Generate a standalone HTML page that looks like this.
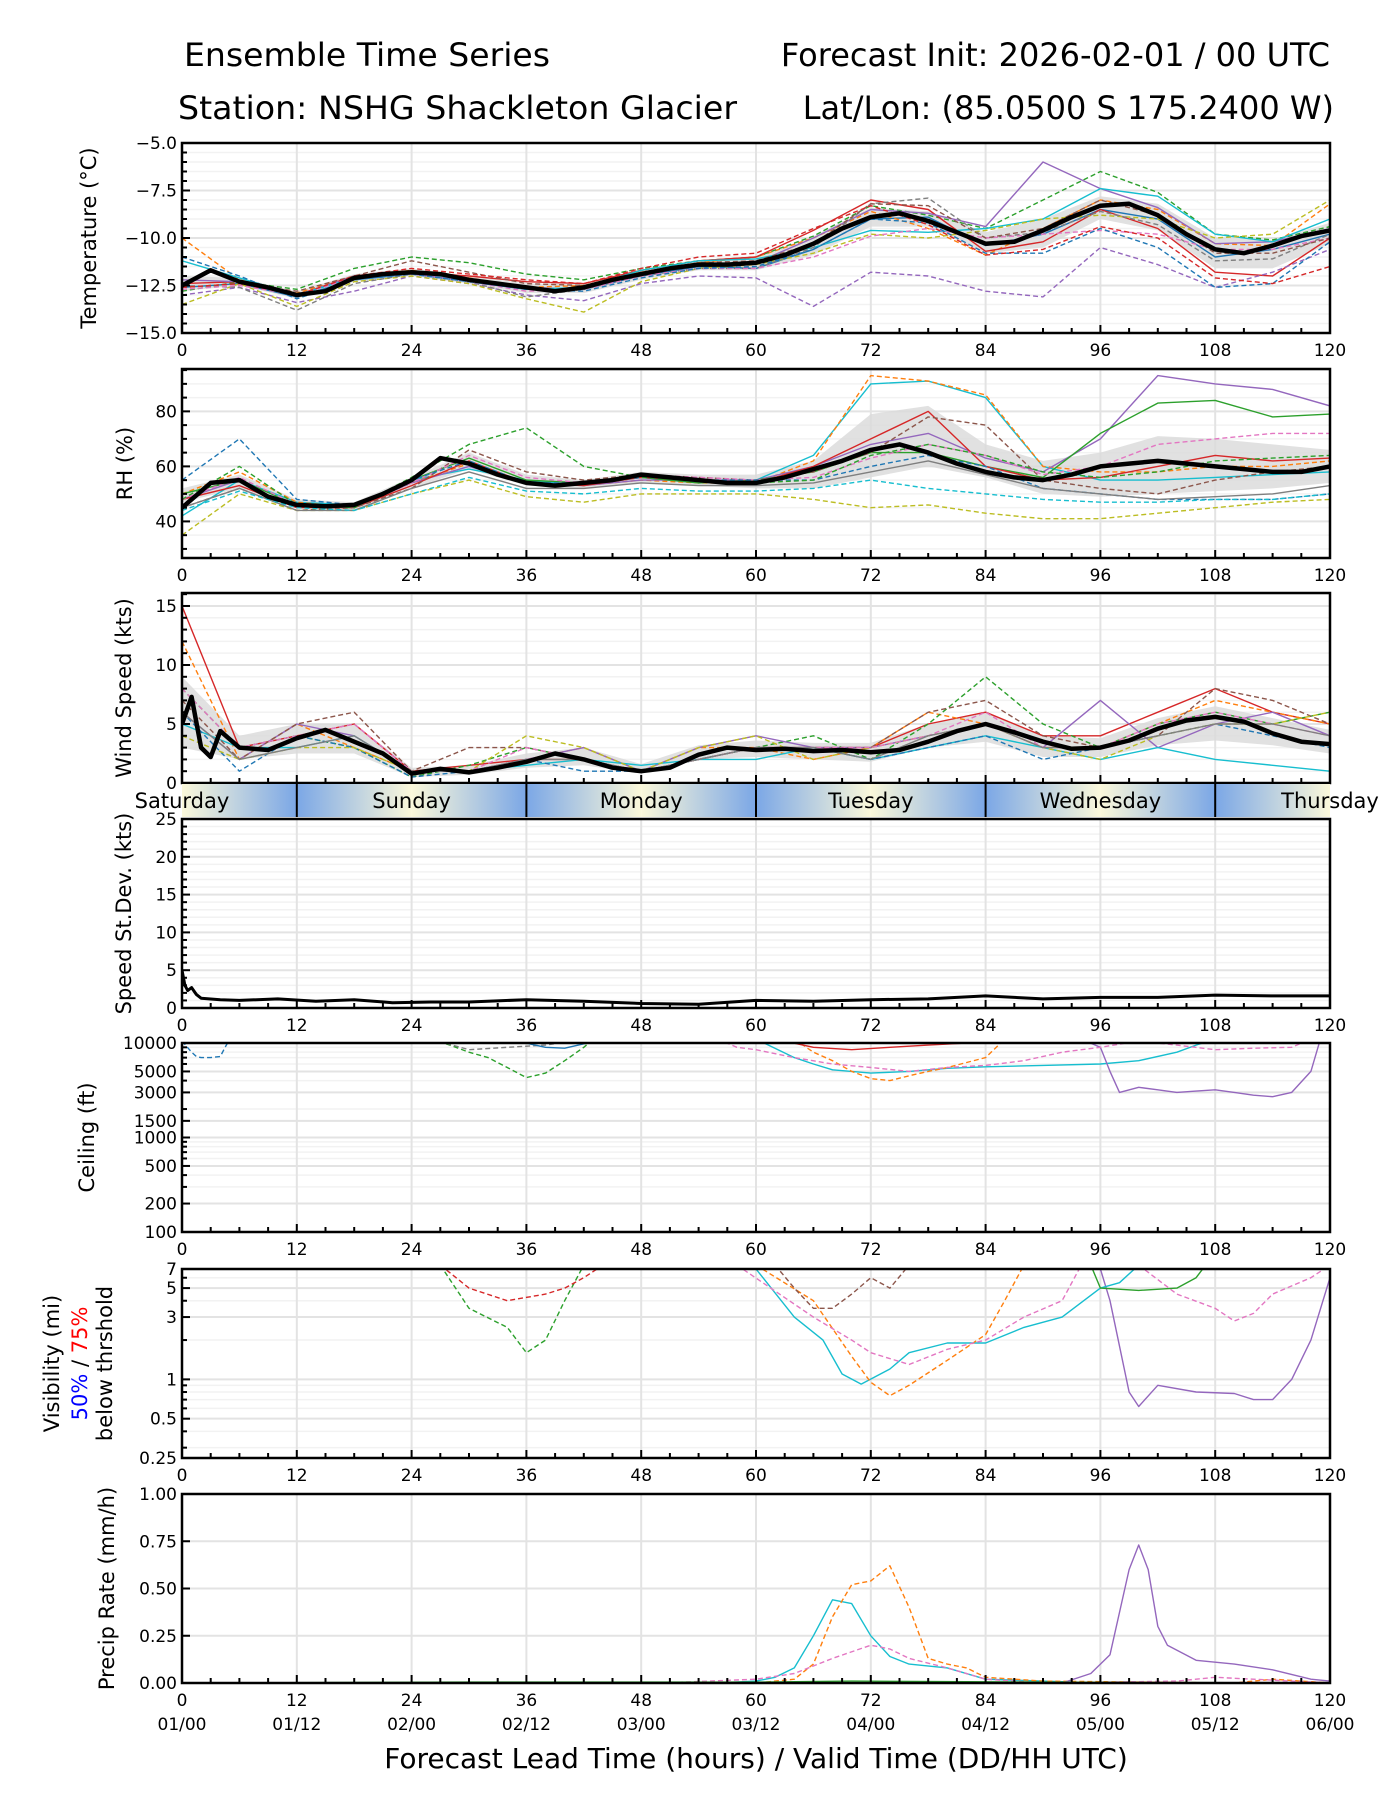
<!DOCTYPE html>
<html><head><meta charset="utf-8"><title>Ensemble Time Series</title>
<style>
html,body{margin:0;padding:0;background:#fff;}
svg text{font-family:"DejaVu Sans","Liberation Sans",sans-serif;fill:#000;}
</style></head>
<body>
<svg id="chart" xmlns="http://www.w3.org/2000/svg" width="1400" height="1800" viewBox="0 0 1400 1800">
<defs>
<linearGradient id="dayGrad" x1="0" x2="1" y1="0" y2="0">
<stop offset="0" stop-color="#fbf8da"/><stop offset="0.5" stop-color="#7ba7e6"/><stop offset="1" stop-color="#fbf8da"/>
</linearGradient>
</defs>
<text x="184" y="66" font-size="32" textLength="366" lengthAdjust="spacingAndGlyphs">Ensemble Time Series</text>
<text x="1330" y="66" font-size="32" text-anchor="end">Forecast Init: 2026-02-01 / 00 UTC</text>
<text x="178" y="119" font-size="32" textLength="559" lengthAdjust="spacingAndGlyphs">Station: NSHG Shackleton Glacier</text>
<text x="1334" y="119" font-size="32" text-anchor="end">Lat/Lon: (85.0500 S 175.2400 W)</text>
<g id="plots"></g>
<text x="756" y="1768" font-size="28" text-anchor="middle">Forecast Lead Time (hours) / Valid Time (DD/HH UTC)</text>
</svg>
<script>
// ---------- data ----------
const H6 = [0,6,12,18,24,30,36,42,48,54,60,66,72,78,84,90,96,102,108,114,120];
const H3 = [0,3,6,9,12,15,18,21,24,27,30,33,36,39,42,45,48,51,54,57,60,63,66,69,72,75,78,81,84,87,90,93,96,99,102,105,108,111,114,117,120];
const xTickLabels = ["0","12","24","36","48","60","72","84","96","108","120"];
const dateLabels = ["01/00","01/12","02/00","02/12","03/00","03/12","04/00","04/12","05/00","05/12","06/00"];
const dayNames = ["Saturday","Sunday","Monday","Tuesday","Wednesday","Thursday"];

const tempMean = [-12.5,-11.7,-12.3,-12.6,-13.0,-12.8,-12.1,-11.9,-11.8,-11.9,-12.2,-12.4,-12.6,-12.8,-12.6,-12.2,-11.9,-11.6,-11.4,-11.4,-11.3,-10.9,-10.3,-9.5,-8.9,-8.7,-9.1,-9.7,-10.3,-10.2,-9.6,-8.9,-8.3,-8.2,-8.8,-9.8,-10.6,-10.8,-10.4,-9.9,-9.6];
const tempLow = [-12.8,-12.5,-13.2,-12.3,-12.0,-12.4,-12.9,-12.9,-12.2,-11.7,-11.7,-10.9,-9.4,-9.4,-10.8,-10.5,-9.0,-9.6,-11.6,-11.6,-10.3];
const tempHigh = [-12.0,-12.1,-12.8,-11.9,-11.6,-12.0,-12.4,-12.4,-11.7,-11.2,-11.0,-9.9,-8.4,-8.6,-9.7,-9.0,-7.8,-8.2,-10.0,-10.1,-9.2];
const tempM1 = [-12.6,-12.4,-13.1,-12.2,-11.9,-12.3,-12.7,-12.7,-12.0,-11.5,-11.6,-10.6,-9.0,-8.9,-10.4,-9.8,-8.5,-9.0,-11.0,-10.6,-9.8];
const tempM2 = [-10.0,-12.2,-12.9,-12.0,-11.7,-12.1,-12.6,-12.5,-11.8,-11.3,-11.0,-10.0,-8.6,-9.5,-10.9,-9.5,-8.0,-8.5,-10.3,-10.4,-8.2];
const tempM3 = [-12.8,-12.3,-12.7,-11.6,-11.0,-11.3,-11.9,-12.2,-11.6,-11.2,-11.0,-9.9,-8.3,-8.8,-9.5,-8.0,-6.5,-7.6,-9.8,-10.1,-9.4];
const tempM4 = [-12.4,-12.3,-13.0,-12.0,-11.8,-12.0,-12.3,-12.4,-11.7,-11.2,-11.0,-9.6,-8.0,-8.5,-10.7,-10.2,-8.5,-9.5,-11.8,-12.0,-10.0];
const tempM5 = [-13.0,-12.6,-13.4,-12.8,-12.0,-12.4,-13.0,-13.3,-12.4,-12.0,-12.1,-13.6,-11.8,-12.0,-12.8,-13.1,-10.5,-11.4,-12.6,-11.8,-10.6];
const tempM6 = [-12.2,-12.3,-13.0,-12.0,-11.9,-12.2,-12.6,-12.7,-11.9,-11.4,-11.3,-10.0,-8.5,-8.7,-9.4,-6.0,-7.4,-8.4,-10.3,-10.2,-9.5];
const tempM7 = [-11.2,-12.1,-13.0,-12.1,-11.8,-12.2,-12.7,-12.6,-11.7,-11.2,-11.1,-10.5,-9.6,-9.7,-9.5,-9.0,-7.4,-7.8,-9.8,-10.2,-9.0];
const tempM8 = [-13.5,-12.4,-13.6,-12.3,-12.0,-12.4,-13.2,-13.9,-12.3,-11.6,-11.4,-10.8,-9.8,-10.0,-9.6,-9.0,-8.8,-9.0,-10.0,-9.8,-8.0];
const tempM9 = [-12.5,-12.6,-13.8,-12.4,-11.9,-12.3,-13.1,-12.7,-12.0,-11.6,-11.6,-10.5,-8.2,-7.9,-10.0,-9.7,-8.6,-9.3,-11.2,-11.1,-9.8];
const tempM10 = [-12.7,-12.5,-13.0,-12.1,-11.9,-12.3,-12.8,-12.7,-12.0,-11.6,-11.6,-11.0,-9.9,-9.5,-10.0,-9.8,-9.6,-9.8,-10.6,-10.6,-10.0];
const tempM11 = [-11.0,-12.0,-13.2,-12.2,-11.9,-12.3,-12.7,-12.8,-12.1,-11.6,-11.5,-10.6,-9.0,-9.2,-10.8,-10.8,-9.5,-10.5,-12.6,-12.4,-10.2];
const tempM12 = [-12.6,-12.4,-12.8,-12.0,-11.2,-11.8,-12.4,-12.5,-11.8,-11.3,-11.2,-10.3,-8.2,-8.3,-10.0,-9.5,-8.0,-8.8,-10.8,-10.8,-10.0];
const tempM13 = [-12.6,-12.4,-13.0,-12.0,-11.6,-11.9,-12.2,-12.4,-11.6,-11.0,-10.8,-9.5,-8.3,-9.3,-10.9,-10.6,-9.4,-10.0,-12.1,-12.4,-11.5];

const rhMean = [45,54,55,49,46,45.5,46,50,55,63,61,57,54,53,54,55,57,56,55,54,54,56,59,62,66,68,65,61,58,56,55,57,60,61,62,61,60,59,58,58,60];
const rhLow = [47,52,45,44,52,59,53,52,54,53,52,52,56,60,56,50,49,50,51,52,54];
const rhHigh = [52,57,48,47,56,65,57,55,58,57,57,62,79,82,68,62,65,71,70,68,66];
const rhM1 = [42,55,47,46,55,59,55,53,56,54,55,64,90,91,85,60,55,55,56,57,58];
const rhM2 = [50,58,47,45,54,61,54,53,55,54,54,62,93,91,86,60,58,58,60,60,62];
const rhM3 = [48,55,46,45,54,60,54,53,55,55,55,60,68,72,63,58,70,93,90,88,82];
const rhM4 = [50,55,46,46,55,63,55,54,56,54,55,58,65,65,60,56,72,83,84,78,79];
const rhM5 = [48,53,45,45,53,62,54,53,56,55,54,60,70,80,60,55,56,60,64,62,63];
const rhM6 = [45,52,44,45,52,66,58,55,57,56,55,58,65,78,75,55,52,50,55,58,60];
const rhM7 = [48,56,46,46,54,64,56,54,57,56,55,56,63,68,64,57,60,68,70,72,72];
const rhM8 = [35,50,44,44,50,55,49,47,50,50,50,48,45,46,43,41,41,43,45,47,48];
const rhM9 = [55,70,48,46,55,62,54,54,56,55,55,55,60,64,60,52,50,48,48,48,50];
const rhM10 = [45,52,44,44,52,58,52,52,54,53,53,54,58,62,57,52,50,48,49,50,53];
const rhM11 = [48,60,46,45,56,68,74,60,56,55,54,55,64,68,64,58,56,58,62,63,64];
const rhM12 = [44,51,45,44,50,56,51,50,52,51,51,52,55,52,50,48,47,47,48,48,50];

const windHours = [0,1,2,3,4,6,9,12,15,18,21,24,27,30,33,36,39,42,45,48,51,54,57,60,63,66,69,72,75,78,81,84,87,90,93,96,99,102,105,108,111,114,117,120];
const windMean = [5,7.3,3,2.2,4.4,3,2.8,3.8,4.5,3.5,2.5,0.8,1.2,0.9,1.3,1.8,2.5,2,1.3,1.0,1.3,2.4,3.0,2.8,2.9,2.7,2.8,2.6,2.8,3.5,4.4,5.0,4.3,3.5,2.9,3.0,3.6,4.6,5.3,5.6,5.2,4.2,3.5,3.3];
const windLow = [3,2,2.5,2.5,0.5,0.7,1.3,1.5,0.8,2.0,2.2,2,1.8,3,3.5,2.2,2.2,3.2,3.6,3.2,2.5];
const windHigh = [9,4,5,5,1.3,1.5,2.5,3,1.6,3.2,3.6,3.4,3.4,5,6,4,3.8,5.5,6.5,5.5,4.5];
const windM1 = [15,3,4,5,1,1.5,2,2,1,2,3,3,3,5,6,4,4,6,8,6,5];
const windM2 = [12,2,5,3,1,1,2,3,1,3,3,2,3,6,5,3,3,5,7,6,5];
const windM3 = [8,3,4,3,0.5,1.5,3,2,1,2,3,4,2,5,9,5,3,5,6,5,6];
const windM4 = [6,2,5,4,1,1,2,3,1,3,4,3,3,4,5,3,7,3,5,6,4];
const windM5 = [5,3,3,4,1,1,1.5,2,1.5,2,2,3,2,3,4,3,2,3,2,1.5,1];
const windM6 = [6,1,4,3,0.5,1,2,1,1,2,3,3,2,3,4,2,3,4,5,4,3];
const windM7 = [7,2,5,6,1,3,3,2,1,2,3,3,3,6,7,4,3,4,8,7,5];
const windM8 = [4,2,3,3,1,1,4,3,1,3,4,2,3,4,5,3,2,4,5,5,6];
const windM9 = [8,3,4,5,1,1,3,2,1,2,3,3,3,4,6,3,3,5,6,5,4];
const windM10 = [6,2,3,4,1,1,2,2,1,2,3,3,2,4,5,3,3,4,5,5,4];

const sdHours = [0,0.3,0.6,1,1.5,2,4,6,10,14,18,22,26,30,36,42,48,54,60,66,72,78,84,90,96,102,108,114,120];
const sdMean = [5,3,2.3,2.7,1.8,1.3,1.1,1.0,1.2,0.9,1.1,0.7,0.8,0.8,1.1,0.9,0.6,0.5,1.0,0.9,1.1,1.2,1.6,1.2,1.4,1.4,1.7,1.6,1.6];

const ceilC1h = [60,64,66,68,72,76,80,84,90,96,100,104,106,108];
const ceilC1 = [11000,7000,6000,5200,4800,5000,5400,5600,5800,6000,6500,8000,9500,11000];
const ceilC2h = [94,96,97,98,100,102,104,106,108,110,112,114,116,118,119];
const ceilC2 = [11000,9000,5000,3000,3400,3200,3000,3100,3200,3000,2800,2700,3000,5000,11000];
const ceilC3h = [26,28,30,32,34,36,38,40,42,43];
const ceilC3 = [11000,9500,8000,7000,5500,4300,4800,6500,9000,11000];
const ceilC4h = [64,66,68,70,72,74,76,78,80,84,86];
const ceilC4 = [11000,8000,6500,5000,4200,4000,4500,5000,5500,7000,11000];
const ceilC5h = [56,58,60,64,68,72,76,80,84,88,92,96,100,104,108,112,116,118];
const ceilC5 = [11000,9000,8500,7000,6000,5500,5000,5500,5800,6500,8000,9000,10500,9500,8500,8800,9000,11000];
const ceilC6h = [0,1,1.5,2,3,4,4.5,5];
const ceilC6 = [10500,8000,7200,7000,7000,7200,9000,11000];
const ceilC7h = [62,66,70,74,78,82,86];
const ceilC7 = [11000,9000,8500,9000,9500,10000,11000];
const ceilC8h = [26,30,34,38,42];
const ceilC8 = [11000,8500,9000,9500,11000];
const ceilC9h = [34,38,40,42,44];
const ceilC9 = [11000,9000,8800,9800,11000];

const visV1h = [96,97,99,100,102,106,110,112,114,116,118,120];
const visV1 = [7,4,0.8,0.62,0.9,0.8,0.78,0.7,0.7,1,2,6];
const visV2h = [60,64,67,69,71,74,76,80,84,88,92,96,98,100];
const visV2 = [7,3,2,1.1,0.92,1.2,1.6,1.9,1.9,2.5,3,5,5.5,7.5];
const visV3h = [60,66,70,72,74,76,80,84,86,88];
const visV3 = [7.5,4,1.5,0.95,0.75,0.9,1.4,2.2,4,7.5];
const visV4h = [58,66,70,72,76,80,84,88,92,94];
const visV4 = [7.5,3,2,1.6,1.3,1.7,2.0,3,4,7.5];
const visV5h = [27,30,34,36,38,40,42];
const visV5 = [7.5,3.5,2.5,1.6,2.0,4,7.5];
const visV6h = [100,104,108,110,112,114,118,120];
const visV6 = [7.5,4.5,3.5,2.8,3.2,4.5,6,7.5];
const visV7h = [95,96,100,104,106,107];
const visV7 = [7.5,5,4.8,5,6,7.5];
const visV8h = [27,30,34,38,40,42,44];
const visV8 = [7.5,5,4,4.5,5,6,7.5];
const visV9h = [62,64,66,68,70,72,74,76];
const visV9 = [7.5,5,3.5,3.5,4.5,6,5,7.5];

const prP1h = [56,60,62,64,66,68,70,72,74,76,80,84,90,96,120];
const prP1 = [0,0.01,0.03,0.08,0.25,0.44,0.42,0.25,0.14,0.1,0.08,0.02,0.01,0,0];
const prP2h = [0,60,64,66,68,70,72,74,76,78,80,82,84,90,110,114,120];
const prP2 = [0,0,0.02,0.1,0.35,0.52,0.54,0.62,0.4,0.13,0.1,0.08,0.03,0.01,0,0.02,0];
const prP3h = [0,50,60,64,68,72,74,76,80,84,90,104,108,116,120];
const prP3 = [0,0,0.02,0.05,0.13,0.2,0.18,0.13,0.08,0.02,0,0.01,0.03,0.01,0];
const prP4h = [0,92,95,97,99,100,101,102,103,106,110,114,118,120];
const prP4 = [0,0,0.05,0.15,0.6,0.73,0.6,0.3,0.2,0.12,0.1,0.07,0.02,0.01];
const prP5h = [0,30,60,70,90,120];
const prP5 = [0,0.005,0.005,0.01,0.005,0];

// ---------- helpers ----------
const NS = "http://www.w3.org/2000/svg";
const root = document.getElementById('plots');
const X0 = 182, X1 = 1330;
function xs(h){ return X0 + (X1 - X0) * h / 120; }
function mk(tag, attrs, parent){
  const e = document.createElementNS(NS, tag);
  for (const k in attrs) e.setAttribute(k, attrs[k]);
  (parent || root).appendChild(e);
  return e;
}
const C = {blue:"#1f77b4",orange:"#ff7f0e",green:"#2ca02c",red:"#d62728",purple:"#9467bd",brown:"#8c564b",pink:"#e377c2",gray:"#7f7f7f",olive:"#bcbd22",cyan:"#17becf"};
let clipId = 0;

function panel(cfg){
  const g = mk('g', {});
  
  
  const ys = cfg.log
    ? v => cfg.bot - (cfg.bot - cfg.top) * (Math.log10(v) - Math.log10(cfg.ymin)) / (Math.log10(cfg.ymax) - Math.log10(cfg.ymin))
    : v => cfg.bot - (cfg.bot - cfg.top) * (v - cfg.ymin) / (cfg.ymax - cfg.ymin);
  (cfg.minor || []).forEach(v => {
    const l = mk('line', {x1:X0, x2:X1, y1:ys(v), y2:ys(v), stroke:"#f2f2f2", "stroke-width":1.5}, g);
    
    
  });
  cfg.ticks.forEach(v => {
    const l = mk('line', {x1:X0, x2:X1, y1:ys(v), y2:ys(v), stroke:"#e3e3e3", "stroke-width":2}, g);
    
    
  });
  for (let h = 12; h < 120; h += 12) {
    const l = mk('line', {x1:xs(h), x2:xs(h), y1:cfg.top, y2:cfg.bot, stroke:"#e3e3e3", "stroke-width":2}, g);
    
    
  }
  const cid = 'clip' + (clipId++);
  const cp = mk('clipPath', {id:cid}, g);
  mk('rect', {x:X0, y:cfg.top, width:X1 - X0, height:cfg.bot - cfg.top}, cp);
  const data = mk('g', {"clip-path":"url(#" + cid + ")"}, g);
  function line(hours, vals, color, dash, width, name){
    let d = "";
    hours.forEach((h, i) => { d += (i ? "L" : "M") + xs(h).toFixed(1) + "," + ys(vals[i]).toFixed(1); });
    const p = mk('path', {d:d, fill:"none", stroke:color, "stroke-width":width || 1.4, "stroke-linejoin":"round"}, data);
    if (dash) p.setAttribute('stroke-dasharray', "5,3");
    
    
  }
  function band(hours, lo, hi){
    let d = "";
    hours.forEach((h, i) => { d += (i ? "L" : "M") + xs(h).toFixed(1) + "," + ys(hi[i]).toFixed(1); });
    for (let i = hours.length - 1; i >= 0; i--) d += "L" + xs(hours[i]).toFixed(1) + "," + ys(lo[i]).toFixed(1);
    const p = mk('path', {d:d + "Z", fill:"#d9d9d9", opacity:0.8}, data);
    
    
  }
  cfg.draw(line, band);
  const fr = mk('rect', {x:X0, y:cfg.top, width:X1 - X0, height:cfg.bot - cfg.top, fill:"none", stroke:"#000", "stroke-width":2.5}, g);
  
  
  for (let h = 0; h <= 120; h += 3) {
    const len = h % 12 === 0 ? 8 : 5;
    mk('line', {x1:xs(h), x2:xs(h), y1:cfg.bot, y2:cfg.bot - len, stroke:"#000", "stroke-width":2}, g);
  }
  if (!cfg.noXLabels) {
    xTickLabels.forEach((t, i) => {
      const tx = mk('text', {x:xs(i * 12), y:cfg.bot + 23, "font-size":17, "text-anchor":"middle"}, g);
      tx.textContent = t;
      
      
    });
  }
  (cfg.minor || []).forEach(v => mk('line', {x1:X0, x2:X0 + 5, y1:ys(v), y2:ys(v), stroke:"#000", "stroke-width":2}, g));
  cfg.ticks.forEach((v, i) => {
    mk('line', {x1:X0, x2:X0 + 8, y1:ys(v), y2:ys(v), stroke:"#000", "stroke-width":2}, g);
    const tx = mk('text', {x:X0 - 5, y:ys(v) + 6, "font-size":17, "text-anchor":"end"}, g);
    tx.textContent = cfg.tickLabels[i];
    
    
  });
  const cy = (cfg.top + cfg.bot) / 2;
  cfg.ylabel.forEach((lab, i) => {
    const tx = mk('text', {x:0, y:0, "font-size":21, "text-anchor":"middle", transform:"translate(" + (cfg.ylx[i] + 8) + "," + cy + ") rotate(-90)"}, g);
    
    
    if (Array.isArray(lab)) {
      lab.forEach(seg => { const s = mk('tspan', {fill:seg[1]}, tx); s.textContent = seg[0]; });
    } else tx.textContent = lab;
  });
  return ys;
}

const tempMembers = [[tempM1,C.blue,0],[tempM2,C.orange,1],[tempM3,C.green,1],[tempM4,C.red,0],[tempM5,C.purple,1],[tempM6,C.purple,0],[tempM7,C.cyan,0],[tempM8,C.olive,1],[tempM9,C.gray,1],[tempM10,C.pink,1],[tempM11,C.blue,1],[tempM12,C.brown,1],[tempM13,C.red,1]];
panel({name:"temperature", top:143, bot:333, ymin:-15, ymax:-5,
  ticks:[-15,-12.5,-10,-7.5,-5], tickLabels:["\u221215.0","\u221212.5","\u221210.0","\u22127.5","\u22125.0"],
  minor:[-14.5,-14,-13.5,-13,-12,-11.5,-11,-10.5,-9.5,-9,-8.5,-8,-7,-6.5,-6,-5.5],
  ylabel:["Temperature (\u00b0C)"], ylx:[88],
  draw:(line, band) => { band(H6, tempLow, tempHigh); tempMembers.forEach(m => line(H6, m[0], m[1], m[2])); line(H3, tempMean, "#000", 0, 4.5, 'ensemble-mean'); }});

const rhMembers = [[rhM1,C.cyan,0],[rhM2,C.orange,1],[rhM3,C.purple,0],[rhM4,C.green,0],[rhM5,C.red,0],[rhM6,C.brown,1],[rhM7,C.pink,1],[rhM8,C.olive,1],[rhM9,C.blue,1],[rhM10,C.gray,0],[rhM11,C.green,1],[rhM12,C.cyan,1]];
panel({name:"rh", top:369, bot:558, ymin:26.7, ymax:95.4,
  ticks:[40,60,80], tickLabels:["40","60","80"], minor:[30,35,45,50,55,65,70,75,85,90,95],
  ylabel:["RH (%)"], ylx:[124],
  draw:(line, band) => { band(H6, rhLow, rhHigh); rhMembers.forEach(m => line(H6, m[0], m[1], m[2])); line(H3, rhMean, "#000", 0, 4.5, 'ensemble-mean'); }});

const windMembers = [[windM1,C.red,0],[windM2,C.orange,1],[windM3,C.green,1],[windM4,C.purple,0],[windM5,C.cyan,0],[windM6,C.blue,1],[windM7,C.brown,1],[windM8,C.olive,1],[windM9,C.pink,1],[windM10,C.gray,0]];
panel({name:"wind-speed", top:593, bot:783, ymin:0, ymax:16.1, noXLabels:true,
  ticks:[0,5,10,15], tickLabels:["0","5","10","15"], minor:[1,2,3,4,6,7,8,9,11,12,13,14,16],
  ylabel:["Wind Speed (kts)"], ylx:[123],
  draw:(line, band) => { band(H6, windLow, windHigh); windMembers.forEach(m => line(H6, m[0], m[1], m[2])); line(windHours, windMean, "#000", 0, 4.5, 'ensemble-mean'); }});

// day bar
(function(){
  const g = mk('g', {});
  
  
  for (let d = 0; d < 5; d++) {
    mk('rect', {x:xs(d * 24), y:784, width:xs(24) - xs(0), height:33, fill:"url(#dayGrad)"}, g);
  }
  for (let d = 0; d < 5; d++) mk('line', {x1:xs(12 + 24 * d), x2:xs(12 + 24 * d), y1:784, y2:817, stroke:"#000", "stroke-width":2}, g);
  dayNames.forEach((n, i) => {
    const t = mk('text', {x:xs(i * 24), y:808, "font-size":21, "text-anchor":"middle"}, g);
    t.textContent = n;
    
    
  });
})();

panel({name:"speed-stdev", top:819, bot:1008, ymin:0, ymax:25,
  ticks:[0,5,10,15,20,25], tickLabels:["0","5","10","15","20","25"],
  minor:[1,2,3,4,6,7,8,9,11,12,13,14,16,17,18,19,21,22,23,24],
  ylabel:["Speed St.Dev. (kts)"], ylx:[123],
  draw:(line) => { line(sdHours, sdMean, "#000", 0, 3, 'stdev-line'); }});

const ceilMembers = [[ceilC1h,ceilC1,C.cyan,0],[ceilC2h,ceilC2,C.purple,0],[ceilC3h,ceilC3,C.green,1],[ceilC4h,ceilC4,C.orange,1],[ceilC5h,ceilC5,C.pink,1],[ceilC6h,ceilC6,C.blue,1],[ceilC7h,ceilC7,C.red,0],[ceilC8h,ceilC8,C.gray,1],[ceilC9h,ceilC9,C.blue,0]];
panel({name:"ceiling", top:1043, bot:1232, ymin:100, ymax:10000, log:true,
  ticks:[100,200,500,1000,1500,3000,5000,10000], tickLabels:["100","200","500","1000","1500","3000","5000","10000"],
  minor:[300,400,600,700,800,900,2000,4000,6000,7000,8000,9000],
  ylabel:["Ceiling (ft)"], ylx:[86],
  draw:(line) => { ceilMembers.forEach(m => line(m[0], m[1], m[2], m[3])); }});

const visMembers = [[visV1h,visV1,C.purple,0],[visV2h,visV2,C.cyan,0],[visV3h,visV3,C.orange,1],[visV4h,visV4,C.pink,1],[visV5h,visV5,C.green,1],[visV6h,visV6,C.pink,1],[visV7h,visV7,C.green,0],[visV8h,visV8,C.red,1],[visV9h,visV9,C.brown,1]];
panel({name:"visibility", top:1269, bot:1458, ymin:0.25, ymax:7, log:true,
  ticks:[0.25,0.5,1,3,5,7], tickLabels:["0.25","0.5","1","3","5","7"],
  minor:[0.3,0.4,0.6,0.7,0.8,0.9,2,4,6],
  ylabel:["Visibility (mi)", [["50%","#0000ff"],[" / ","#000"],["75%","#ff0000"]], "below thrshold"], ylx:[51,79,104],
  draw:(line) => { visMembers.forEach(m => line(m[0], m[1], m[2], m[3])); }});

const prMembers = [[prP1h,prP1,C.cyan,0],[prP2h,prP2,C.orange,1],[prP3h,prP3,C.pink,1],[prP4h,prP4,C.purple,0],[prP5h,prP5,C.green,0]];
panel({name:"precip-rate", top:1494, bot:1683, ymin:0, ymax:1,
  ticks:[0,0.25,0.5,0.75,1], tickLabels:["0.00","0.25","0.50","0.75","1.00"], minor:[],
  ylabel:["Precip Rate (mm/h)"], ylx:[106],
  draw:(line) => { prMembers.forEach(m => line(m[0], m[1], m[2], m[3])); }});

dateLabels.forEach((t, i) => {
  const tx = mk('text', {x:xs(i * 12), y:1730, "font-size":17, "text-anchor":"middle"});
  tx.textContent = t;
  
  
});
</script>
</body></html>
